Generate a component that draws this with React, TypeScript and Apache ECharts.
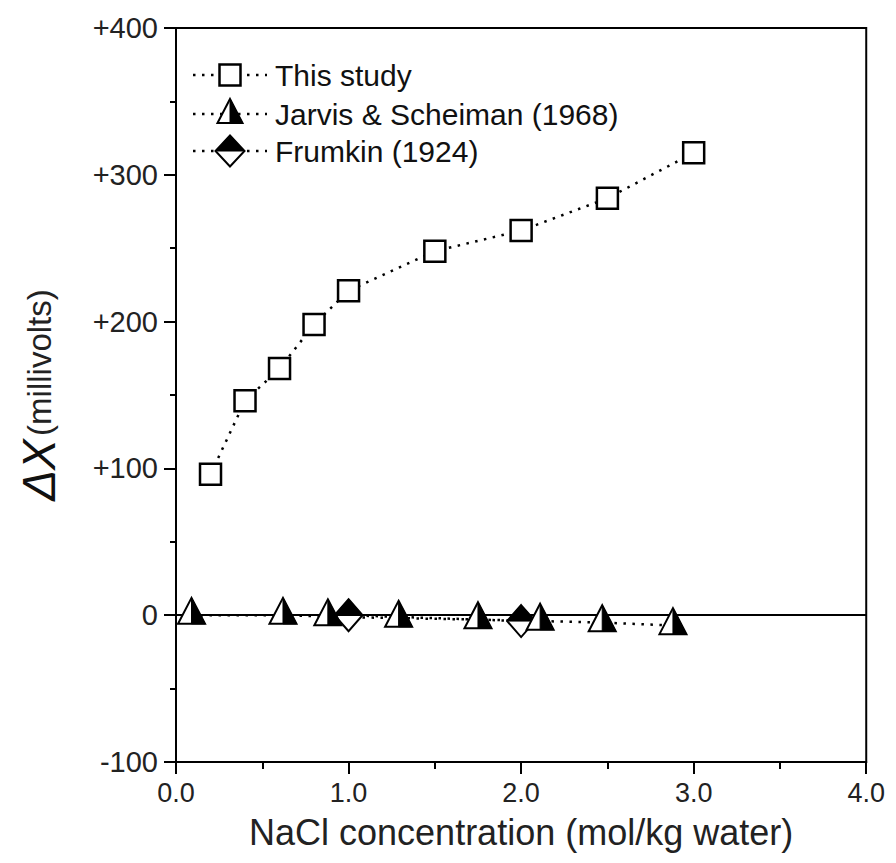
import React, { useEffect, useRef } from "react";
import * as echarts from "echarts";

// ---- data ----
const thisStudyX = [0.2, 0.4, 0.6, 0.8, 1.0, 1.5, 2.0, 2.5, 3.0];
const thisStudyY = [96, 146, 168, 198, 221, 248, 262, 284, 315];
const jarvisX = [0.09, 0.62, 0.88, 1.29, 1.75, 2.11, 2.47, 2.88];
const jarvisY = [0, 0, -1, -2, -3, -4, -5, -7];
const frumkinX = [1.0, 2.0];
const frumkinY = [0, -4];
const seriesNames = ["This study", "Jarvis & Scheiman (1968)", "Frumkin (1924)"];
const xAxisTitle = "NaCl concentration (mol/kg water)";
const yAxisTitleSymbol = "\u0394X";
const yAxisTitleUnit = "(millivolts)";

const FONT = "'Liberation Sans', Arial, Helvetica, sans-serif";
const DOT = { stroke: "#000", lineWidth: 2.5, lineDash: [2.5, 6.5] };

const zip = (xs: number[], ys: number[]) => xs.map((x, i) => [x, ys[i]]);

const triShapes = (cx: number, cy: number, w: number, h: number) => {
  const top = cy - (h * 2) / 3;
  const bot = cy + h / 3;
  return [
    {
      type: "polygon",
      shape: { points: [[cx, top], [cx + w / 2, bot], [cx - w / 2, bot]] },
      style: { fill: "#fff", stroke: "#000", lineWidth: 2 },
    },
    {
      type: "polygon",
      shape: { points: [[cx, top], [cx + w / 2, bot], [cx, bot]] },
      style: { fill: "#000", stroke: "#000", lineWidth: 1 },
    },
  ];
};

const diaShapes = (cx: number, cy: number, w: number, h: number) => [
  {
    type: "polygon",
    shape: { points: [[cx, cy - h / 2], [cx + w / 2, cy], [cx, cy + h / 2], [cx - w / 2, cy]] },
    style: { fill: "#fff", stroke: "#000", lineWidth: 2 },
  },
  {
    type: "polygon",
    shape: { points: [[cx, cy - h / 2], [cx + w / 2, cy], [cx - w / 2, cy]] },
    style: { fill: "#000", stroke: "#000", lineWidth: 1 },
  },
];

export default function App() {
  const ref = useRef<HTMLDivElement>(null);
  useEffect(() => {
    if (!ref.current) return;
    const chart = echarts.init(ref.current, null, { renderer: "svg" });

    const legendRows = [67, 106, 143];
    const iconX = 222;
    const legendGraphics: any[] = [];
    legendRows.forEach((y, i) => {
      legendGraphics.push({
        type: "line",
        shape: { x1: 185, y1: y, x2: 259, y2: y },
        style: DOT,
        z: 10,
      });
      let icon: any[];
      if (i === 0) {
        icon = [
          {
            type: "rect",
            shape: { x: iconX - 10.5, y: y - 10.5, width: 21, height: 21 },
            style: { fill: "#fff", stroke: "#000", lineWidth: 2.5 },
          },
        ];
      } else if (i === 1) {
        icon = triShapes(iconX, y + 1, 25, 24);
      } else {
        icon = diaShapes(iconX, y, 29, 31);
      }
      icon.forEach((g) => legendGraphics.push({ ...g, z: 11 }));
      legendGraphics.push({
        type: "text",
        x: 267,
        y: y,
        style: {
          text: seriesNames[i],
          font: `30px ${FONT}`,
          fill: "#111",
          verticalAlign: "middle",
          align: "left",
        },
        z: 11,
      });
    });

    const option: any = {
      animation: false,
      backgroundColor: "#fff",
      textStyle: { fontFamily: FONT, color: "#000" },
      grid: {
        left: 158,
        right: 14,
        top: 20,
        bottom: 92,
        show: true,
        borderColor: "#000",
        borderWidth: 2,
        backgroundColor: "transparent",
      },
      xAxis: {
        type: "value",
        min: 0,
        max: 4,
        interval: 1,
        name: xAxisTitle,
        nameLocation: "middle",
        nameGap: 52,
        nameTextStyle: { fontSize: 36, color: "#222", fontFamily: FONT },
        axisLine: { show: true, onZero: false, lineStyle: { color: "#000", width: 2 } },
        axisTick: { show: true, inside: false, length: 12, lineStyle: { color: "#000", width: 2 } },
        minorTick: { show: true, splitNumber: 2, length: 7, lineStyle: { color: "#000", width: 2 } },
        axisLabel: {
          fontSize: 27,
          color: "#222",
          margin: 17,
          fontFamily: FONT,
          formatter: (v: number) => v.toFixed(1),
        },
        splitLine: { show: false },
      },
      yAxis: {
        type: "value",
        min: -100,
        max: 400,
        interval: 100,
        name: `{a|${yAxisTitleSymbol}} {b|${yAxisTitleUnit}}`,
        nameLocation: "middle",
        nameRotate: 90,
        nameGap: 114,
        nameTextStyle: {
          rich: {
            a: { fontSize: 46, fontStyle: "italic", fontFamily: FONT, color: "#111" },
            b: { fontSize: 33, fontFamily: FONT, color: "#222" },
          },
        },
        axisLine: { show: true, onZero: false, lineStyle: { color: "#000", width: 2 } },
        axisTick: { show: true, inside: false, length: 12, lineStyle: { color: "#000", width: 2 } },
        minorTick: { show: true, splitNumber: 2, length: 6, lineStyle: { color: "#000", width: 2 } },
        axisLabel: {
          fontSize: 29,
          color: "#222",
          margin: 18,
          fontFamily: FONT,
          formatter: (v: number) => (v > 0 ? "+" + v : String(v)),
        },
        splitLine: { show: false },
      },
      series: [
        {
          type: "line",
          name: "zero",
          data: [],
          z: 1,
          markLine: {
            silent: true,
            symbol: "none",
            label: { show: false },
            lineStyle: { color: "#000", width: 2, type: "solid" },
            data: [{ yAxis: 0 }],
          },
        },
        {
          type: "line",
          name: seriesNames[0],
          data: zip(thisStudyX, thisStudyY),
          showSymbol: true,
          symbol: "rect",
          symbolSize: 21,
          itemStyle: { color: "#fff", borderColor: "#000", borderWidth: 2.5 },
          lineStyle: { color: "#000", width: 2.5, type: [2.5, 6.5] },
          z: 3,
        },
        {
          type: "line",
          name: seriesNames[1] + " line",
          data: zip(jarvisX, jarvisY),
          showSymbol: false,
          symbol: "none",
          lineStyle: { color: "#000", width: 2.5, type: [2.5, 6.5] },
          z: 2,
        },
        {
          type: "line",
          name: seriesNames[2] + " line",
          data: zip(frumkinX, frumkinY),
          showSymbol: false,
          symbol: "none",
          lineStyle: { color: "#000", width: 2.5, type: [2.5, 6.5] },
          z: 2,
        },
        {
          type: "custom",
          name: seriesNames[2],
          data: zip(frumkinX, frumkinY),
          encode: { x: 0, y: 1 },
          z: 4,
          renderItem: (params: any, api: any) => {
            const p = api.coord([api.value(0), api.value(1)]);
            return { type: "group", children: diaShapes(p[0], p[1], 28, 32) };
          },
        },
        {
          type: "custom",
          name: seriesNames[1],
          data: zip(jarvisX, jarvisY),
          encode: { x: 0, y: 1 },
          z: 5,
          renderItem: (params: any, api: any) => {
            const p = api.coord([api.value(0), api.value(1)]);
            return { type: "group", children: triShapes(p[0], p[1], 27, 26) };
          },
        },
      ],
      graphic: legendGraphics,
    };
    chart.setOption(option);
    return () => chart.dispose();
  }, []);
  return <div ref={ref} style={{ width: 880, height: 847 }} />;
}
